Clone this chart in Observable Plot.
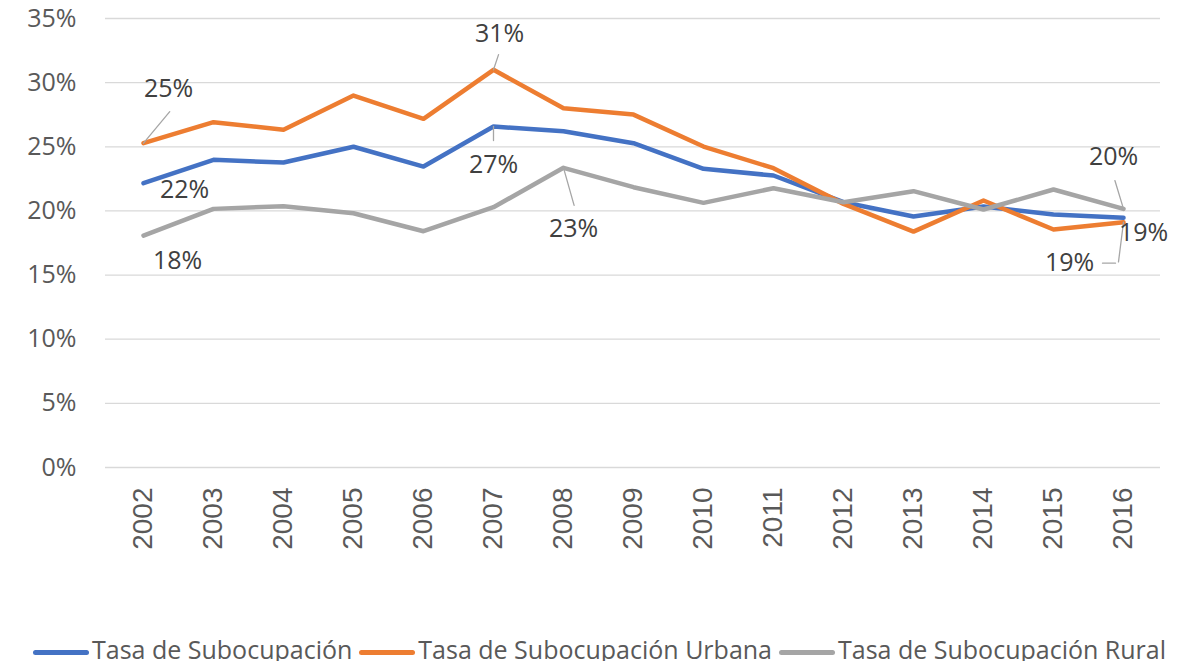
<!DOCTYPE html>
<html><head><meta charset="utf-8">
<script src="https://cdn.jsdelivr.net/npm/d3@7"></script>
<script src="https://cdn.jsdelivr.net/npm/@observablehq/plot@0.6"></script>
<style>
body{margin:0;background:#fff;font-family:"Open Sans",sans-serif;}
#legend{display:flex;align-items:center;margin-top:7px;padding-left:33px;height:24px;line-height:24px;font-size:25px;color:#595959;white-space:nowrap;}
.item{display:flex;align-items:center;margin-right:7px;}
.sw{width:56px;height:5px;border-radius:3px;margin-right:3px;position:relative;top:3px;}
</style></head><body><div id="chart"></div><div id="legend"></div>
<script>
const years = [2002,2003,2004,2005,2006,2007,2008,2009,2010,2011,2012,2013,2014,2015,2016];
const total  = [0.2216,0.2398,0.2377,0.2500,0.2346,0.2658,0.2621,0.2528,0.2328,0.2276,0.2068,0.1956,0.2034,0.1972,0.1946];
const urbana = [0.2528,0.2692,0.2632,0.2899,0.2718,0.3100,0.2800,0.2751,0.2502,0.2333,0.2055,0.1839,0.2081,0.1855,0.1912];
const rural  = [0.1808,0.2016,0.2037,0.1982,0.1842,0.2029,0.2336,0.2185,0.2063,0.2177,0.2068,0.2154,0.2011,0.2167,0.2016];
const seriesNames = ["Tasa de Subocupación","Tasa de Subocupación Urbana","Tasa de Subocupación Rural"];
const colors = ["#4472C4","#ED7D31","#A5A5A5"];
const yTicks = [0,0.05,0.10,0.15,0.20,0.25,0.30,0.35];

const seriesValues = [total, urbana, rural];
const rows = [];
seriesValues.forEach((vals, s) => vals.forEach((v, i) => rows.push({year: String(years[i]), value: v, series: seriesNames[s]})));

const pick = (s, year) => rows.filter(d => d.series === seriesNames[s] && d.year === String(year));
const lineShape = {draw(ctx, l) { ctx.moveTo(0, 0); ctx.lineTo(0, -l); }};
function label(s, year, dx, dy) {
  return Plot.text(pick(s, year), {x: "year", y: "value", text: d => Math.round(d.value * 100) + "%", dx, dy, fill: "#404040", fontSize: 25, textAnchor: "middle"});
}
function leader(s, year, length, rotate, dx = 0, dy = 0) {
  return Plot.vector(pick(s, year), {x: "year", y: "value", length, rotate, anchor: "start", shape: lineShape, stroke: "#a6a6a6", strokeWidth: 1.3, fill: "none", dx, dy});
}

const chart = Plot.plot({
  width: 1184, height: 630,
  marginTop: 18, marginBottom: 163, marginLeft: 105, marginRight: 24,
  style: {fontFamily: "'Open Sans', sans-serif", fontSize: "25px", color: "#595959", background: "#fff"},
  x: {type: "point", domain: years.map(String), padding: 0.5, label: null},
  y: {domain: [0, 0.35], label: null},
  color: {domain: seriesNames, range: colors},
  marks: [
    Plot.gridY(yTicks, {stroke: "#d9d9d9", strokeOpacity: 1, strokeWidth: 1.3}),
    Plot.axisY(yTicks, {tickSize: 0, tickPadding: 29, tickFormat: d => Math.round(d * 100) + "%", fill: "#595959", fontSize: 25}),
    Plot.axisX({tickRotate: -90, tickSize: 0, tickPadding: 20, fill: "#595959", fontSize: 28, fontFamily: "'Liberation Sans', Arial, sans-serif"}),
    Plot.line(rows, {x: "year", y: "value", stroke: "series", z: "series", strokeWidth: 4.5, strokeLinejoin: "round", strokeLinecap: "round"}),
    leader(1, 2002, 41, 39.8),
    leader(1, 2007, 16, 18.4),
    leader(0, 2007, 14, 180),
    leader(2, 2008, 39, 164.2),
    leader(2, 2016, 29.6, -16.9),
    leader(1, 2016, 40, 187.2),
    leader(1, 2016, 13, -90, -8, 41),
    label(1, 2002, 25, -54),
    label(0, 2002, 41, 7),
    label(2, 2002, 34, 25),
    label(1, 2007, 6, -36),
    label(0, 2007, 0, 38),
    label(2, 2008, 10, 61),
    label(2, 2016, -10, -52),
    label(0, 2016, 20, 15),
    label(1, 2016, -54, 41)
  ]
});
document.getElementById("chart").append(chart);

const legend = document.getElementById("legend");
seriesNames.forEach((n, i) => {
  const it = document.createElement("div"); it.className = "item";
  const sw = document.createElement("div"); sw.className = "sw"; sw.style.background = colors[i];
  const t = document.createElement("span"); t.textContent = n;
  it.append(sw, t); legend.append(it);
});
</script></body></html>
